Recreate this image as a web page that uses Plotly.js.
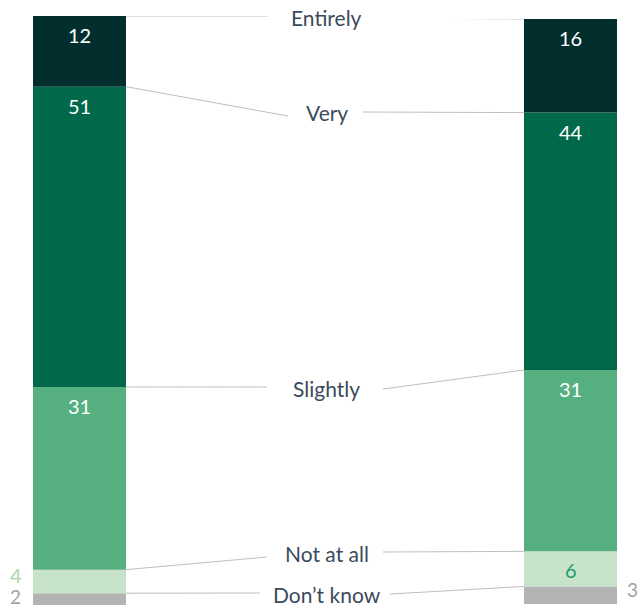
<!DOCTYPE html>
<html>
<head>
<meta charset="utf-8">
<script src="https://cdn.plot.ly/plotly-3.0.1.min.js"></script>
<style>html,body{margin:0;padding:0;background:#fff;}#chart{width:638px;height:608px;}</style>
</head>
<body>
<div id="chart"></div>
<script>
// Data (top-to-bottom order)
const categories = ['Entirely', 'Very', 'Slightly', 'Not at all', 'Don\u2019t know'];
const leftValues = [12, 51, 31, 4, 2];
const rightValues = [16, 44, 31, 6, 3];
const barPositions = [0, 1];

// Styles
const colors = ['#022F2D', '#01684A', '#56AF7F', '#C7E3C9', '#B3B3B3'];
const W = 638, H = 608;
const FONT = 'Lato, "Open Sans", sans-serif';
const labelColor = '#3B4A5C';
const lineColor = '#BFBFBF';

// pixel geometry of the plot (layout only)
const xPix0 = 79.5, xPix1 = 570.5;
const xUnit = xPix1 - xPix0;
const xr = [-xPix0 / xUnit, (W - xPix0) / xUnit];
const leftTop = 16, leftBot = 605, rightTop = 19, rightBot = 604;
const pxToX = px => (px - xPix0) / xUnit;
const pxToYL = py => (leftBot - py) / (leftBot - leftTop) * 100;
const pxToYR = py => (rightBot - py) / (rightBot - rightTop) * 100;

// label placement (layout)
const labelY = [18, 112, 388, 553, 594];
const leftLineEnd = [[268, 16], [288, 116], [267, 387], [267, 557], [260, 593]];
const rightLineStart = [[383, 18], [363, 112], [383, 389], [383, 552], [390, 594]];
const labelX = 327;

// segment tops (cumulative from bottom)
function tops(vals) {
  const t = [];
  for (let i = 0; i < vals.length; i++) {
    let s = 0;
    for (let j = i; j < vals.length; j++) s += vals[j];
    t.push(s);
  }
  return t;
}
const leftTops = tops(leftValues), rightTops = tops(rightValues);

const barW = 93 / xUnit;
const traces = [];
for (let i = categories.length - 1; i >= 0; i--) {
  traces.push({type: 'bar', x: [barPositions[0]], y: [leftValues[i]], base: [leftTops[i] - leftValues[i]],
    xaxis: 'x', yaxis: 'y', width: barW,
    marker: {color: colors[i], line: {width: 0}}, hoverinfo: 'skip', showlegend: false, name: categories[i]});
  traces.push({type: 'bar', x: [barPositions[1]], y: [rightValues[i]], base: [rightTops[i] - rightValues[i]],
    xaxis: 'x', yaxis: 'y2', width: barW,
    marker: {color: colors[i], line: {width: 0}}, hoverinfo: 'skip', showlegend: false, name: categories[i]});
}

const shapes = [], annotations = [];
categories.forEach((c, i) => {
  shapes.push({type: 'line', xref: 'x', yref: 'y', x0: barPositions[0] + barW / 2, y0: leftTops[i],
    x1: pxToX(leftLineEnd[i][0]), y1: pxToYL(leftLineEnd[i][1]), line: {color: lineColor, width: 1}});
  shapes.push({type: 'line', xref: 'x', yref: 'y2', x0: barPositions[1] - barW / 2, y0: rightTops[i],
    x1: pxToX(rightLineStart[i][0]), y1: pxToYR(rightLineStart[i][1]), line: {color: lineColor, width: 1}});
  annotations.push({text: c, xref: 'paper', yref: 'paper', x: labelX / W, y: 1 - labelY[i] / H,
    xanchor: 'center', yanchor: 'middle', showarrow: false, font: {family: FONT, size: 21, color: labelColor}});
});

function valueLabel(v, i, xpos, yref, topVal, side) {
  if (v >= 5) {
    const col = (i === 3) ? '#1E9C6B' : '#FFFFFF';
    annotations.push({text: String(v), xref: 'x', yref: yref, x: xpos, y: topVal, yshift: -19,
      xanchor: 'center', yanchor: 'middle', showarrow: false, font: {family: FONT, size: 20, color: col}});
  } else {
    const col = (i === 3) ? '#A9D6AE' : '#A3A3A3';
    const last = (i === categories.length - 1);
    annotations.push({text: String(v), xref: 'x', yref: yref,
      x: side < 0 ? pxToX(15.5) : pxToX(632), y: topVal, yshift: last ? -3 : -5,
      xanchor: 'center', yanchor: 'middle', showarrow: false,
      font: {family: FONT, size: last ? 19 : 20, color: col}});
  }
}
leftValues.forEach((v, i) => valueLabel(v, i, barPositions[0], 'y', leftTops[i], -1));
rightValues.forEach((v, i) => valueLabel(v, i, barPositions[1], 'y2', rightTops[i], 1));

const layout = {
  width: W, height: H,
  margin: {l: 0, r: 0, t: 0, b: 0, pad: 0},
  paper_bgcolor: '#fff', plot_bgcolor: 'rgba(0,0,0,0)',
  barmode: 'overlay',
  xaxis: {range: xr, visible: false, fixedrange: true},
  yaxis: {range: [0, 100], visible: false, domain: [(H - leftBot) / H, (H - leftTop) / H], fixedrange: true},
  yaxis2: {range: [0, 100], visible: false, anchor: 'x', domain: [(H - rightBot) / H, (H - rightTop) / H], fixedrange: true},
  shapes: shapes,
  annotations: annotations,
  showlegend: false
};

Plotly.newPlot('chart', traces, layout, {displayModeBar: false, staticPlot: true});
</script>
</body>
</html>
